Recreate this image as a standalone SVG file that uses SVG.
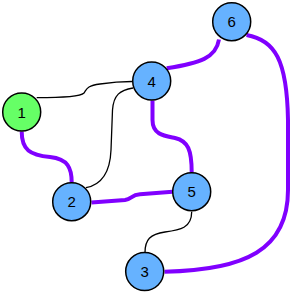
<svg xmlns="http://www.w3.org/2000/svg" width="297" height="295" viewBox="0 0 297 295">
<style>
.thin{fill:none;stroke:#000;stroke-width:1.3}
.thick{fill:none;stroke:#8000ff;stroke-width:4;stroke-linecap:butt}
.node circle{stroke:#000;stroke-width:1.5}
.blue{fill:#66b2ff}
.green{fill:#66ff66}
.node text{font-family:"Liberation Sans",Arial,sans-serif;font-size:15px;text-anchor:middle;dominant-baseline:central;fill:#000}
</style>
<rect width="297" height="295" fill="#fff"/>
<g id="edges">
<path class="thin" d="M36.7,97.7 C60,97.7 80,97 84,93 C87,89 86,86 100,84 C110,82.5 120,81.5 132,81.5"/>
<path class="thin" d="M86,187.7 C100,185 110,175 111,150 L112.5,110 C113.5,95 120,90 133,88"/>
<path class="thin" d="M191.7,211.7 C191.7,228 180,230 165,232 C150,234 145,240 145,252.5"/>
<path class="thick" d="M21.7,131.5 C21.7,150 30,155 50,157 C68,159 71.7,168 71.7,182.5"/>
<path class="thick" d="M91.5,202.5 L125,200 C132,199 131,195 140,194.3 L172.5,191.7"/>
<path class="thick" d="M152.5,100.5 L152.5,120 C152.5,135 165,136 175,138 C188,141 191.7,150 191.7,172.5"/>
<path class="thick" d="M166.7,68.3 C200,63 216,58 219,39.5"/>
<path class="thick" d="M246.5,35 C275,40 287,60 288,120 L288,190 C288,250 245,270 164.5,271.7"/>
</g>
<g id="node1" class="node"><circle class="green" cx="21.7" cy="112" r="19"/><text x="21.7" y="112">1</text></g>
<g id="node2" class="node"><circle class="blue" cx="71.7" cy="201.7" r="19"/><text x="71.7" y="201.7">2</text></g>
<g id="node3" class="node"><circle class="blue" cx="144.7" cy="271.5" r="19"/><text x="144.7" y="271.5">3</text></g>
<g id="node4" class="node"><circle class="blue" cx="151.7" cy="81" r="19"/><text x="151.7" y="81">4</text></g>
<g id="node5" class="node"><circle class="blue" cx="191.7" cy="191.7" r="19"/><text x="191.7" y="191.7">5</text></g>
<g id="node6" class="node"><circle class="blue" cx="231.7" cy="21.7" r="19"/><text x="231.7" y="21.7">6</text></g>
</svg>
